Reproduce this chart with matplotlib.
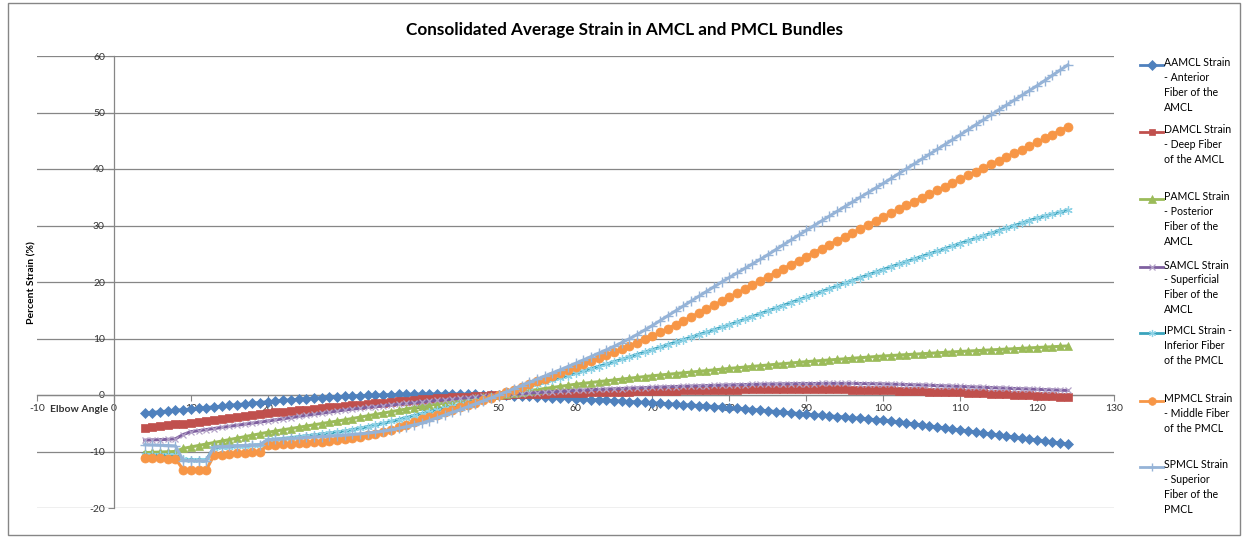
import matplotlib
matplotlib.use("Agg")
import matplotlib.pyplot as plt
from matplotlib.lines import Line2D
from matplotlib.patches import Rectangle

plt.rcParams['font.family'] = ['Lato', 'DejaVu Sans']

# Elbow angle (degrees)
angle = list(range(4, 125))

aamcl = [-3.25, -3.1, -2.97, -2.85, -2.73, -2.61, -2.5, -2.37, -2.24, -2.11, -1.98, -1.85, -1.72, -1.59, -1.46, -1.33,
         -1.2, -1.08, -0.97, -0.86, -0.76, -0.66, -0.57, -0.48, -0.4, -0.32, -0.25, -0.18, -0.12, -0.07, -0.02, 0.02,
         0.06, 0.09, 0.12, 0.14, 0.16, 0.17, 0.18, 0.18, 0.18, 0.17, 0.15, 0.12, 0.08, 0.04, 0.0, -0.05, -0.11, -0.17,
         -0.23, -0.3, -0.37, -0.45, -0.53, -0.61, -0.69, -0.76, -0.82, -0.88, -0.94, -1.0, -1.08, -1.16, -1.24, -1.32,
         -1.4, -1.48, -1.56, -1.64, -1.72, -1.8, -1.88, -1.96, -2.05, -2.14, -2.23, -2.34, -2.45, -2.57, -2.69, -2.81,
         -2.93, -3.05, -3.17, -3.29, -3.41, -3.51, -3.61, -3.71, -3.81, -3.92, -4.03, -4.14, -4.26, -4.38, -4.5, -4.66,
         -4.82, -4.98, -5.14, -5.3, -5.48, -5.66, -5.84, -6.02, -6.2, -6.38, -6.56, -6.74, -6.92, -7.1, -7.28, -7.46,
         -7.64, -7.82, -8.0, -8.17, -8.34, -8.51, -8.68]

damcl = [-5.8, -5.65, -5.5, -5.35, -5.2, -5.05, -4.9, -4.73, -4.56, -4.39, -4.22, -4.05, -3.88, -3.71, -3.54, -3.37,
         -3.2, -3.07, -2.94, -2.81, -2.69, -2.57, -2.44, -2.32, -2.2, -2.08, -1.95, -1.83, -1.71, -1.59, -1.47, -1.35,
         -1.23, -1.11, -0.99, -0.87, -0.75, -0.67, -0.59, -0.51, -0.43, -0.36, -0.29, -0.21, -0.14, -0.07, 0.0, 0.05,
         0.1, 0.14, 0.18, 0.22, 0.26, 0.3, 0.33, 0.37, 0.4, 0.43, 0.46, 0.49, 0.52, 0.55, 0.58, 0.61, 0.64, 0.67, 0.7,
         0.72, 0.75, 0.77, 0.8, 0.82, 0.85, 0.87, 0.9, 0.92, 0.94, 0.96, 0.98, 1.0, 1.02, 1.04, 1.06, 1.07, 1.08, 1.08,
         1.08, 1.07, 1.06, 1.04, 1.02, 1.0, 0.97, 0.94, 0.91, 0.88, 0.85, 0.81, 0.77, 0.73, 0.69, 0.65, 0.61, 0.57,
         0.53, 0.49, 0.45, 0.4, 0.34, 0.29, 0.23, 0.18, 0.12, 0.07, 0.01, -0.05, -0.1, -0.16, -0.22, -0.28, -0.35]

pamcl = [-10.2, -10.15, -10.1, -10.05, -10.0, -9.45, -9.2, -8.94, -8.68, -8.42, -8.16, -7.9, -7.64, -7.38, -7.12,
         -6.86, -6.6, -6.38, -6.16, -5.94, -5.72, -5.5, -5.28, -5.06, -4.84, -4.62, -4.4, -4.16, -3.92, -3.68, -3.44,
         -3.2, -2.96, -2.72, -2.48, -2.24, -2.0, -1.8, -1.6, -1.4, -1.2, -1.0, -0.8, -0.6, -0.4, -0.2, 0.0, 0.19, 0.38,
         0.57, 0.76, 0.95, 1.14, 1.33, 1.52, 1.71, 1.9, 2.06, 2.21, 2.36, 2.51, 2.66, 2.81, 2.96, 3.11, 3.26, 3.4,
         3.53, 3.66, 3.79, 3.92, 4.05, 4.18, 4.31, 4.44, 4.57, 4.7, 4.82, 4.94, 5.06, 5.18, 5.3, 5.42, 5.54, 5.66,
         5.78, 5.9, 6.0, 6.1, 6.2, 6.3, 6.4, 6.5, 6.6, 6.7, 6.8, 6.9, 6.98, 7.06, 7.14, 7.22, 7.3, 7.38, 7.46, 7.54,
         7.62, 7.7, 7.77, 7.84, 7.91, 7.98, 8.05, 8.12, 8.19, 8.26, 8.33, 8.4, 8.47, 8.54, 8.61, 8.68]

samcl = [-8.0, -7.95, -7.9, -7.85, -7.75, -7.0, -6.5, -6.31, -6.12, -5.93, -5.74, -5.55, -5.36, -5.17, -4.98, -4.79,
         -4.6, -4.4, -4.2, -4.0, -3.8, -3.61, -3.42, -3.23, -3.04, -2.85, -2.65, -2.5, -2.35, -2.2, -2.05, -1.91,
         -1.77, -1.63, -1.49, -1.35, -1.2, -1.08, -0.96, -0.84, -0.72, -0.6, -0.48, -0.36, -0.24, -0.12, 0.0, 0.09,
         0.18, 0.26, 0.34, 0.42, 0.5, 0.57, 0.64, 0.72, 0.8, 0.86, 0.92, 0.98, 1.04, 1.1, 1.15, 1.2, 1.25, 1.3, 1.35,
         1.4, 1.45, 1.5, 1.54, 1.58, 1.62, 1.66, 1.7, 1.74, 1.78, 1.81, 1.84, 1.87, 1.9, 1.93, 1.95, 1.97, 1.99, 2.01,
         2.02, 2.03, 2.04, 2.05, 2.05, 2.05, 2.04, 2.03, 2.01, 1.99, 1.96, 1.92, 1.88, 1.84, 1.8, 1.76, 1.71, 1.66,
         1.61, 1.56, 1.51, 1.46, 1.41, 1.36, 1.31, 1.25, 1.2, 1.15, 1.1, 1.05, 1.0, 0.95, 0.9, 0.85, 0.8]

ipmcl = [-10.6, -10.6, -10.6, -10.6, -10.6, -11.4, -11.45, -11.45, -11.5, -9.3, -9.22, -9.14, -9.06, -8.98, -8.9,
         -8.82, -8.0, -7.85, -7.7, -7.55, -7.4, -7.24, -7.07, -6.9, -6.73, -6.57, -6.4, -6.14, -5.87, -5.6, -5.31,
         -5.02, -4.69, -4.36, -4.02, -3.67, -3.32, -2.99, -2.66, -2.33, -2.0, -1.67, -1.34, -1.0, -0.67, -0.33, 0.0,
         0.37, 0.74, 1.11, 1.49, 1.87, 2.25, 2.64, 3.03, 3.42, 3.81, 4.22, 4.63, 5.04, 5.45, 5.87, 6.29, 6.72, 7.15,
         7.58, 8.01, 8.45, 8.89, 9.33, 9.77, 10.21, 10.65, 11.09, 11.53, 11.97, 12.41, 12.9, 13.39, 13.88, 14.37,
         14.86, 15.35, 15.84, 16.33, 16.82, 17.31, 17.8, 18.29, 18.78, 19.27, 19.76, 20.25, 20.74, 21.23, 21.72,
         22.21, 22.67, 23.13, 23.59, 24.05, 24.51, 24.97, 25.43, 25.89, 26.35, 26.81, 27.26, 27.71, 28.16, 28.61,
         29.06, 29.51, 29.96, 30.41, 30.86, 31.31, 31.66, 32.01, 32.36, 32.71]

mpmcl = [-11.1, -11.15, -11.2, -11.25, -11.3, -13.2, -13.22, -13.24, -13.25, -10.7, -10.58, -10.47, -10.35, -10.23,
         -10.12, -10.0, -8.9, -8.82, -8.74, -8.66, -8.58, -8.5, -8.37, -8.24, -8.1, -7.95, -7.8, -7.6, -7.38, -7.13,
         -6.84, -6.52, -6.14, -5.72, -5.26, -4.79, -4.32, -3.9, -3.48, -3.06, -2.64, -2.21, -1.78, -1.34, -0.9, -0.45,
         0.0, 0.47, 0.95, 1.43, 1.91, 2.4, 2.91, 3.42, 3.94, 4.46, 4.98, 5.51, 6.04, 6.57, 7.09, 7.62, 8.16, 8.71,
         9.27, 9.84, 10.42, 11.08, 11.76, 12.44, 13.12, 13.8, 14.5, 15.2, 15.9, 16.6, 17.3, 18.02, 18.74, 19.46, 20.18,
         20.9, 21.62, 22.34, 23.06, 23.78, 24.5, 25.2, 25.9, 26.6, 27.3, 28.0, 28.7, 29.4, 30.1, 30.8, 31.5, 32.18,
         32.86, 33.54, 34.22, 34.9, 35.56, 36.22, 36.88, 37.54, 38.2, 38.86, 39.52, 40.18, 40.84, 41.5, 42.14, 42.78,
         43.42, 44.06, 44.7, 45.4, 46.1, 46.8, 47.5]

spmcl = [-8.8, -8.85, -8.9, -8.95, -9.0, -11.6, -11.63, -11.67, -11.7, -9.2, -9.13, -9.07, -9.0, -8.93, -8.87, -8.8,
         -7.9, -7.83, -7.75, -7.68, -7.6, -7.52, -7.43, -7.35, -7.27, -7.19, -7.1, -6.99, -6.86, -6.72, -6.57, -6.38,
         -6.16, -5.9, -5.6, -5.3, -5.0, -4.53, -4.05, -3.56, -3.08, -2.59, -2.08, -1.56, -1.04, -0.52, 0.0, 0.56,
         1.12, 1.68, 2.24, 2.8, 3.35, 3.9, 4.46, 5.03, 5.6, 6.19, 6.79, 7.39, 7.99, 8.6, 9.27, 9.95, 10.7, 11.5, 12.3,
         13.16, 14.02, 14.88, 15.74, 16.6, 17.45, 18.3, 19.15, 20.0, 20.8, 21.6, 22.4, 23.2, 24.0, 24.82, 25.7, 26.56,
         27.42, 28.28, 29.14, 29.98, 30.82, 31.66, 32.5, 33.34, 34.16, 34.98, 35.8, 36.62, 37.44, 38.3, 39.16, 40.02,
         40.88, 41.74, 42.6, 43.46, 44.32, 45.18, 46.04, 46.92, 47.8, 48.68, 49.56, 50.44, 51.3, 52.16, 53.02, 53.88,
         54.74, 55.66, 56.58, 57.5, 58.42]

labels = [
    "AAMCL Strain\n- Anterior\nFiber of the\nAMCL",
    "DAMCL Strain\n- Deep Fiber\nof the AMCL",
    "PAMCL Strain\n- Posterior\nFiber of the\nAMCL",
    "SAMCL Strain\n- Superficial\nFiber of the\nAMCL",
    "IPMCL Strain -\nInferior Fiber\nof the PMCL",
    "MPMCL Strain\n- Middle Fiber\nof the PMCL",
    "SPMCL Strain\n- Superior\nFiber of the\nPMCL",
]
x_ticks = list(range(-10, 131, 10))
y_ticks = list(range(-20, 61, 10))

# line colour, marker, marker size, marker face, marker edge, marker edge width
styles = [
    dict(color="#4F81BD", marker="D", ms=5.5, mfc="#4F81BD", mec="#4F81BD", mew=0.5),
    dict(color="#C0504D", marker="s", ms=5.5, mfc="#C0504D", mec="#C0504D", mew=0.5),
    dict(color="#9BBB59", marker="^", ms=6, mfc="#9BBB59", mec="#9BBB59", mew=0.5),
    dict(color="#7F60A0", marker="x", ms=5, mfc="none", mec="#B3A2C7", mew=0.9),
    dict(color="#3AA3BC", marker=(6, 2, 0), ms=6, mfc="none", mec="#8DD2E6", mew=0.9),
    dict(color="#F79646", marker="o", ms=6.5, mfc="#F79646", mec="#F79646", mew=0.5),
    dict(color="#95B3D7", marker="+", ms=7, mfc="none", mec="#95B3D7", mew=1.0),
]
series = [aamcl, damcl, pamcl, samcl, ipmcl, mpmcl, spmcl]

W, H = 1244, 537
fig = plt.figure(figsize=(W / 100, H / 100), dpi=100)
fig.patch.set_facecolor("white")


def fx(px):
    return px / W


def fy(py):
    return 1 - py / H


ax = fig.add_axes([fx(37), fy(508), fx(1114) - fx(37), fy(56) - fy(508)])
ax.set_xlim(-10, 130)
ax.set_ylim(-20, 60)

for vals, st in zip(series, styles):
    ax.plot(angle, vals, color=st["color"], lw=2.2, marker=st["marker"], ms=st["ms"],
            mfc=st["mfc"], mec=st["mec"], mew=st["mew"], zorder=3)

axis_grey = "#868686"
for side in ("top", "right"):
    ax.spines[side].set_visible(False)
ax.spines["left"].set_position(("data", 0))
ax.spines["bottom"].set_position(("data", 0))
for side in ("left", "bottom"):
    ax.spines[side].set_color(axis_grey)
    ax.spines[side].set_linewidth(0.9)

ax.set_xticks(x_ticks)
ax.set_yticks(y_ticks)
ax.set_xticklabels([str(v) for v in x_ticks])
ax.set_yticklabels([str(v) for v in y_ticks])
ax.tick_params(axis="both", direction="out", length=4, width=0.8, color=axis_grey,
               labelsize=7.5, labelcolor="#333333", pad=2.5)
ax.yaxis.grid(True, color=axis_grey, lw=0.9, zorder=0)
ax.set_axisbelow(True)
ax.patch.set_alpha(0)

# Axis titles and chart title
fig.text(fx(79), fy(409), "Elbow Angle", ha="center", va="center", fontsize=7.5,
         fontweight="bold", color="#333333")
fig.text(fx(32), fy(283), "Percent Strain (%)", ha="center", va="center", rotation=90,
         fontsize=7.5, fontweight="bold", color="#000000")
fig.text(fx(625), fy(30), "Consolidated Average Strain in AMCL and PMCL Bundles", ha="center",
         va="center", fontsize=12.3, fontweight="bold", color="#000000")

# Legend
slot_y = [65, 131.7, 199, 267, 333, 400.7, 467]
for lab, st, yy in zip(labels, styles, slot_y):
    fig.add_artist(Line2D([fx(1140), fx(1163)], [fy(yy), fy(yy)], transform=fig.transFigure,
                          color=st["color"], lw=2.0))
    fig.add_artist(Line2D([fx(1151.5)], [fy(yy)], transform=fig.transFigure, color=st["color"],
                          lw=0, marker=st["marker"], ms=st["ms"] * 0.85, mfc=st["mfc"], mec=st["mec"],
                          mew=st["mew"]))
    fig.text(fx(1164), fy(yy - 7.5), lab, ha="left", va="top", fontsize=7.6, color="#000000",
             linespacing=1.43)

# Chart border
fig.add_artist(Rectangle((fx(8), fy(535)), fx(1240) - fx(8), fy(3) - fy(535), transform=fig.transFigure,
                         fill=False, edgecolor=axis_grey, lw=1))

fig.savefig("out.png", dpi=100)
